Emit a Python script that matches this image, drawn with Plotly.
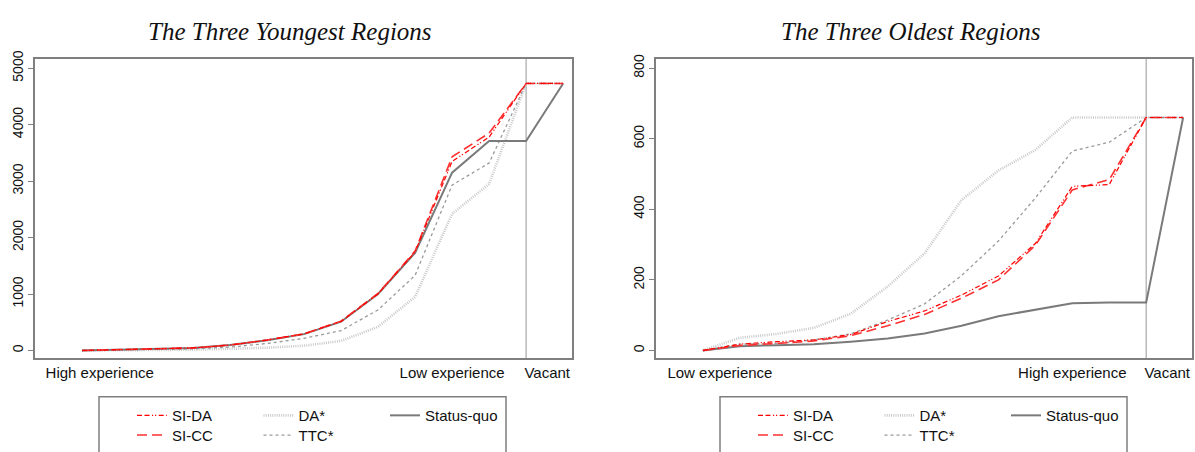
import plotly.graph_objects as go

# ---- data -------------------------------------------------------------
x_pos = list(range(14))  # 13 experience groups + vacant

young_sq   = [0, 17, 28, 46, 97, 182, 290, 510, 1000, 1730, 3150, 3710, 3710, 4730]
young_sida = [0, 17, 28, 46, 97, 185, 295, 515, 1005, 1745, 3350, 3780, 4730, 4730]
young_sicc = [0, 17, 28, 46, 97, 185, 295, 520, 1010, 1760, 3430, 3850, 4730, 4730]
young_ttc  = [0, 8, 15, 30, 60, 124, 216, 352, 720, 1330, 2930, 3320, 4730, 4730]
young_da   = [0, 4, 8, 15, 30, 50, 85, 170, 420, 950, 2420, 2950, 4730, 4730]

old_sq   = [0, 12, 15, 18, 25, 34, 48, 70, 97, 116, 134, 136, 136, 660]
old_da   = [0, 36, 47, 64, 104, 181, 275, 426, 510, 568, 660, 660, 660, 660]
old_ttc  = [0, 18, 20, 30, 47, 86, 132, 212, 310, 432, 565, 590, 660, 660]
old_sida = [0, 18, 25, 30, 45, 82, 112, 157, 211, 303, 465, 470, 660, 660]
old_sicc = [0, 14, 20, 27, 42, 70, 102, 148, 200, 298, 455, 484, 660, 660]

young_ticks = [0.48, 10.0, 12.57]
young_ticktext = ["High experience", "Low experience", "Vacant"]
old_ticks = [0.46, 10.0, 12.57]
old_ticktext = ["Low experience", "High experience", "Vacant"]

young_yticks = [0, 1000, 2000, 3000, 4000, 5000]
old_yticks = [0, 200, 400, 600, 800]
vacant_x = 12

titles = ["The Three Youngest Regions", "The Three Oldest Regions"]

# ---- styles -------------------------------------------------------------
styles = {
    "DA*":        dict(color="#c9c9c9", width=2.6, dash="1px,1.2px"),
    "TTC*":       dict(color="#9a9a9a", width=1.3, dash="3px,3px"),
    "Status-quo": dict(color="#7a7a7a", width=2.0, dash="solid"),
    "SI-CC":      dict(color="#ff3030", width=1.6, dash="10px,5px"),
    "SI-DA":      dict(color="#ff0000", width=1.2, dash="5px,2.5px,5px,2.5px,1.2px,1.8px,1.2px,2.5px"),
}
legend_row = {"SI-DA": 0, "DA*": 0, "Status-quo": 0, "SI-CC": 1, "TTC*": 1}
legend_rank = {"SI-DA": 1, "DA*": 2, "Status-quo": 3, "SI-CC": 4, "TTC*": 5}

fig = go.Figure()

panels = [
    ("x", "y", {"DA*": young_da, "TTC*": young_ttc, "Status-quo": young_sq,
                "SI-CC": young_sicc, "SI-DA": young_sida}, ["legend", "legend2"]),
    ("x2", "y2", {"DA*": old_da, "TTC*": old_ttc, "Status-quo": old_sq,
                  "SI-CC": old_sicc, "SI-DA": old_sida}, ["legend3", "legend4"]),
]

for xa, ya, series, legs in panels:
    for name in ["DA*", "TTC*", "Status-quo", "SI-CC", "SI-DA"]:
        fig.add_trace(go.Scatter(
            x=x_pos, y=series[name], mode="lines", name=name,
            line=styles[name], xaxis=xa, yaxis=ya,
            legend=legs[legend_row[name]], legendrank=legend_rank[name],
            hoverinfo="skip",
        ))

W, H = 1195, 452
def px(v):
    return v / W
def py(v):
    return (H - v) / H

ydom = [py(365), py(53)]
frame = dict(showline=True, linecolor="#7f7f7f", linewidth=1.6, mirror=True,
             showgrid=False, zeroline=False)
tickfont = dict(family="Liberation Sans, Arial, sans-serif", size=15, color="#111")
ytickfont = dict(family="Liberation Sans, Arial, sans-serif", size=14, color="#111")

xr = [-1.27, 13.24]
fig.update_layout(
    width=W, height=H, margin=dict(l=0, r=0, t=0, b=0),
    plot_bgcolor="white", paper_bgcolor="white",
    xaxis=dict(domain=[px(35), px(572)], range=xr, tickvals=young_ticks,
               ticktext=young_ticktext, ticks="", tickfont=tickfont, **frame),
    yaxis=dict(domain=ydom, range=[-141, 5165], tickvals=young_yticks, ticks="outside",
               ticklen=5, tickcolor="#7f7f7f", tickangle=-90, tickfont=ytickfont, **frame),
    xaxis2=dict(domain=[px(656), px(1192)], range=xr, tickvals=old_ticks,
                ticktext=old_ticktext, ticks="", tickfont=tickfont, anchor="y2", **frame),
    yaxis2=dict(domain=ydom, range=[-22.6, 826], tickvals=old_yticks, ticks="outside",
                ticklen=5, tickcolor="#7f7f7f", tickangle=-90, tickfont=ytickfont,
                anchor="x2", **frame),
)

legfont = dict(family="Liberation Sans, Arial, sans-serif", size=15, color="#111")
common_leg = dict(orientation="h", xanchor="left", yanchor="middle", font=legfont,
                  bgcolor="rgba(0,0,0,0)", borderwidth=0, entrywidth=81.5,
                  entrywidthmode="pixels", itemwidth=30, traceorder="normal")
fig.update_layout(
    legend=dict(x=px(132), y=py(424.5), **common_leg),
    legend2=dict(x=px(132), y=py(445), **common_leg),
    legend3=dict(x=px(753), y=py(424.5), **common_leg),
    legend4=dict(x=px(753), y=py(445), **common_leg),
)

# legend boxes and vacant reference lines
shapes = [
    dict(type="rect", xref="paper", yref="paper", x0=px(99), x1=px(506),
         y0=py(470), y1=py(405), line=dict(color="#7f7f7f", width=1.5)),
    dict(type="rect", xref="paper", yref="paper", x0=px(720), x1=px(1127),
         y0=py(470), y1=py(405), line=dict(color="#7f7f7f", width=1.5)),
    dict(type="line", xref="x", yref="y domain", x0=vacant_x, x1=vacant_x, y0=0, y1=1,
         line=dict(color="#a8a8a8", width=1.2), layer="below"),
    dict(type="line", xref="x2", yref="y2 domain", x0=vacant_x, x1=vacant_x, y0=0, y1=1,
         line=dict(color="#a8a8a8", width=1.2), layer="below"),
]
fig.update_layout(shapes=shapes)

titlefont = dict(family="Liberation Serif, Times New Roman, serif", size=25, color="#111")
fig.update_layout(annotations=[
    dict(text="<i>%s</i>" % titles[0], x=px(290), y=py(24.5), xref="paper", yref="paper",
         showarrow=False, font=titlefont, xanchor="center", yanchor="middle"),
    dict(text="<i>%s</i>" % titles[1], x=px(910), y=py(24.5), xref="paper", yref="paper",
         showarrow=False, font=titlefont, xanchor="center", yanchor="middle"),
])

fig.write_html("out.html", config={"displayModeBar": False},
               post_script="document.body.style.margin='0';document.body.style.overflow='hidden';")
